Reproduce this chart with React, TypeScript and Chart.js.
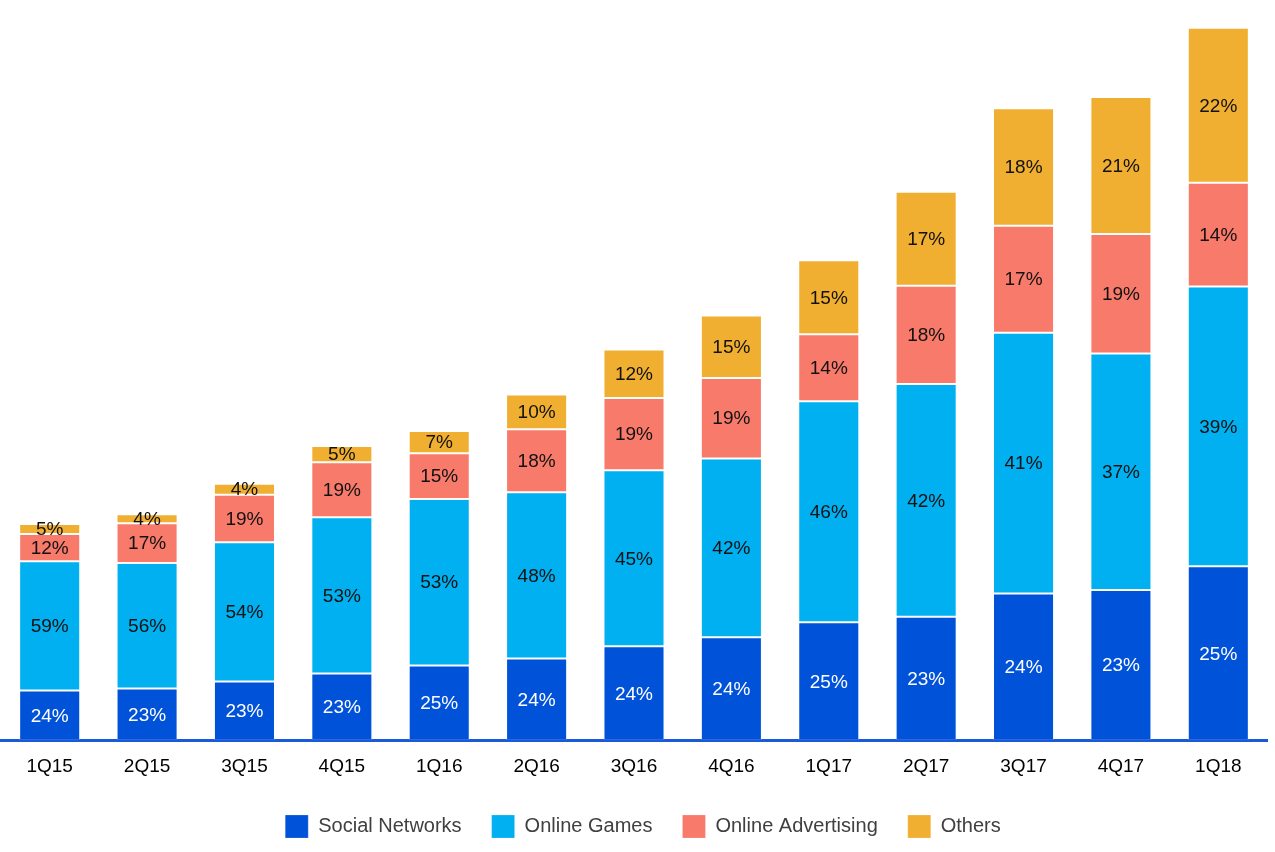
import React, { useEffect, useRef } from "react";
import { Chart, registerables } from "chart.js";

Chart.register(...registerables);

const quarters = ["1Q15", "2Q15", "3Q15", "4Q15", "1Q16", "2Q16", "3Q16", "4Q16", "1Q17", "2Q17", "3Q17", "4Q17", "1Q18"];

// Segment sizes (relative revenue units)
const socialNetworks = [49.8, 51.8, 58.8, 66.8, 74.8, 81.8, 93.8, 102.8, 117.8, 123.4, 146.7, 150.1, 173.8];
const onlineGames = [129, 125.4, 139, 156, 166.4, 166, 176, 178.7, 221, 232.6, 260.7, 236.4, 279.7];
const onlineAdvertising = [27.4, 39.6, 47.7, 55, 45.6, 63, 72.4, 80.7, 67, 98.2, 106.9, 119.5, 103.7];
const others = [10, 9, 11, 16.4, 22.4, 34.7, 48.3, 62.3, 74, 94, 117.4, 137, 155];

// Share labels shown on the segments (%)
const socialShare = [24, 23, 23, 23, 25, 24, 24, 24, 25, 23, 24, 23, 25];
const gamesShare = [59, 56, 54, 53, 53, 48, 45, 42, 46, 42, 41, 37, 39];
const advertisingShare = [12, 17, 19, 19, 15, 18, 19, 19, 14, 18, 17, 19, 14];
const othersShare = [5, 4, 4, 5, 7, 10, 12, 15, 15, 17, 18, 21, 22];

const seriesNames = ["Social Networks", "Online Games", "Online Advertising", "Others"];
const seriesColors = ["#0052D9", "#00B0F0", "#F87A6A", "#F0AF30"];
const labelColors = ["#FFFFFF", "#111111", "#111111", "#111111"];

const FONT = "'Liberation Sans', Arial, sans-serif";

export default function App() {
  const ref = useRef<HTMLCanvasElement | null>(null);

  useEffect(() => {
    const canvas = ref.current;
    if (!canvas) return;
    const values = [socialNetworks, onlineGames, onlineAdvertising, others];
    const shares = [socialShare, gamesShare, advertisingShare, othersShare];

    const segmentLabels = {
      id: "segmentLabels",
      afterDatasetsDraw(chart: any) {
        const ctx = chart.ctx;
        ctx.save();
        ctx.font = `19px ${FONT}`;
        ctx.textAlign = "center";
        ctx.textBaseline = "middle";
        chart.data.datasets.forEach((_ds: any, i: number) => {
          const meta = chart.getDatasetMeta(i);
          meta.data.forEach((bar: any, j: number) => {
            const p = bar.getProps(["x", "y", "base"], true);
            ctx.fillStyle = labelColors[i];
            ctx.fillText(shares[i][j] + "%", p.x, (p.y + p.base) / 2 + 1);
          });
        });
        ctx.restore();
      },
    };

    const legendShift = {
      id: "legendShift",
      afterLayout(chart: any) {
        if (chart.legend) {
          chart.legend.left += 9;
          chart.legend.right += 9;
        }
      },
    };

    const chart = new Chart(canvas, {
      type: "bar",
      data: {
        labels: quarters,
        datasets: values.map((v, i) => ({
          label: seriesNames[i],
          data: v,
          backgroundColor: seriesColors[i],
          borderColor: "rgba(255,255,255,0.2)",
          borderWidth: 1,
          borderSkipped: false,
          categoryPercentage: 1,
          barPercentage: 0.627,
        })),
      },
      options: {
        responsive: false,
        animation: false,
        layout: { padding: { top: 20, left: 1, right: 8, bottom: 4 } },
        plugins: {
          tooltip: { enabled: false },
          legend: {
            position: "bottom",
            labels: {
              boxWidth: 23,
              boxHeight: 23,
              padding: 30,
              color: "#404040",
              font: { family: FONT, size: 20 },
            },
          },
        },
        scales: {
          x: {
            stacked: true,
            z: 1,
            grid: { display: false, drawTicks: true, tickLength: 8 },
            border: { display: true, color: "#1A5AD8", width: 3 },
            ticks: { color: "#000000", font: { family: FONT, size: 19 }, padding: 7 },
          },
          y: {
            stacked: true,
            display: false,
            min: 0,
            max: 720,
          },
        },
      },
      plugins: [segmentLabels, legendShift],
    });
    return () => chart.destroy();
  }, []);

  return (
    <div style={{ position: "absolute", left: 0, top: 0, width: 1275, height: 852, background: "#fff" }}>
      <canvas ref={ref} width={1275} height={852} style={{ width: 1275, height: 852, display: "block" }} />
    </div>
  );
}
